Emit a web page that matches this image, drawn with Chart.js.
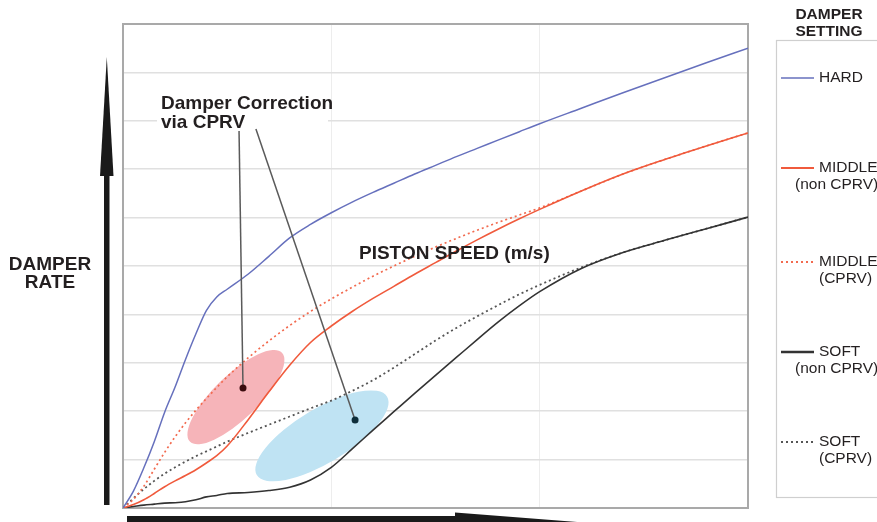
<!DOCTYPE html>
<html>
<head>
<meta charset="utf-8">
<script src="https://cdn.jsdelivr.net/npm/chart.js@4.4.1/dist/chart.umd.min.js"></script>
<style>
  body { margin: 0; background: #fff; }
  canvas { display: block; }
</style>
</head>
<body>
<canvas id="chart" width="877" height="522"></canvas>
<script>
// piston speed (m/s), shared x positions
const speed = [0, 0.05, 0.1, 0.15, 0.2, 0.25, 0.3, 0.35, 0.4, 0.45, 0.5, 0.6, 0.7, 0.8, 0.9, 1.0,
  1.1, 1.2, 1.3, 1.4, 1.5, 1.6, 1.7, 1.8, 1.9, 2.0, 2.2, 2.4, 2.6, 2.8, 3.0];

// damper rate
const hard = [0, 0.35, 0.83, 1.37, 1.98, 2.5, 3.07, 3.6, 4.08, 4.36, 4.52, 4.83, 5.2, 5.58, 5.86, 6.1,
  6.32, 6.52, 6.71, 6.9, 7.08, 7.26, 7.43, 7.6, 7.77, 7.94, 8.26, 8.58, 8.89, 9.2, 9.5];
const middleNon = [0, 0.07, 0.17, 0.3, 0.44, 0.56, 0.67, 0.79, 0.93, 1.08, 1.28, 1.82, 2.4, 2.95, 3.42, 3.76,
  4.06, 4.33, 4.58, 4.83, 5.07, 5.31, 5.54, 5.76, 5.97, 6.17, 6.55, 6.9, 7.2, 7.48, 7.75];
const middleCprv = [0, 0.18, 0.45, 0.8, 1.15, 1.47, 1.76, 2.02, 2.26, 2.49, 2.71, 3.1, 3.45, 3.77, 4.06, 4.32,
  4.56, 4.79, 5.0, 5.2, 5.39, 5.57, 5.74, 5.9, 6.05, 6.2, 6.55, 6.9, 7.2, 7.48, 7.75];
const softNon = [0, 0.03, 0.06, 0.08, 0.1, 0.11, 0.13, 0.17, 0.23, 0.26, 0.3, 0.32, 0.36, 0.43, 0.58, 0.84,
  1.22, 1.61, 1.99, 2.37, 2.74, 3.11, 3.48, 3.84, 4.17, 4.47, 4.95, 5.28, 5.53, 5.77, 6.01];
const softCprv = [0, 0.2, 0.39, 0.56, 0.71, 0.84, 0.96, 1.07, 1.17, 1.27, 1.37, 1.55, 1.72, 1.89, 2.06, 2.22,
  2.42, 2.64, 2.9, 3.18, 3.46, 3.72, 3.96, 4.19, 4.41, 4.61, 4.97, 5.28, 5.53, 5.77, 6.01];

const legendLabels = [["HARD"], ["MIDDLE", "(non CPRV)"], ["MIDDLE", "(CPRV)"], ["SOFT", "(non CPRV)"], ["SOFT", "(CPRV)"]];

const pts = arr => speed.map((x, i) => ({ x: x, y: arr[i] }));
const FONT = '"Liberation Sans", Arial, sans-serif';
const INK = "#231f20";

const series = [
  { data: hard, color: "#6670bd", width: 1.5, dash: [] },
  { data: middleNon, color: "#f05a3c", width: 1.6, dash: [] },
  { data: middleCprv, color: "#f26a4f", width: 1.7, dash: [2, 3] },
  { data: softNon, color: "#333333", width: 1.6, dash: [] },
  { data: softCprv, color: "#555555", width: 1.8, dash: [2, 3] }
];

// pink / blue correction areas, in data units
const backdrop = {
  id: "backdrop",
  beforeDatasetsDraw(chart) {
    const { ctx, chartArea: a, scales: { x, y } } = chart;
    ctx.save();
    ctx.strokeStyle = "#a9a9a9";
    ctx.lineWidth = 2;
    ctx.strokeRect(a.left, a.top, a.right - a.left, a.bottom - a.top);

    const ell = (cx, cy, rx, ry, rot, col) => {
      ctx.beginPath();
      ctx.ellipse(x.getPixelForValue(cx), y.getPixelForValue(cy), rx, ry, rot, 0, Math.PI * 2);
      ctx.fillStyle = col;
      ctx.fill();
    };
    ell(0.542, 2.29, 64, 22, -44 * Math.PI / 180, "#f6b4b9");
    ell(0.955, 1.49, 76, 27, -31 * Math.PI / 180, "#bfe3f3");
    ctx.restore();
  }
};

const notes = {
  id: "notes",
  afterDatasetsDraw(chart) {
    const { ctx, scales: { x, y } } = chart;
    ctx.save();

    // label box
    ctx.fillStyle = "#fff";
    ctx.fillRect(157, 90, 171, 38);
    ctx.fillStyle = INK;
    ctx.font = "bold 19px " + FONT;
    ctx.textBaseline = "middle";
    ctx.fillText("Damper Correction", 161, 104);
    ctx.fillText("via CPRV", 161, 123);

    // leader lines and dots
    const lead = (x0, y0, x1, y1, dot) => {
      ctx.strokeStyle = "#5a5a5a";
      ctx.lineWidth = 1.5;
      ctx.beginPath();
      ctx.moveTo(x.getPixelForValue(x0), y.getPixelForValue(y0));
      ctx.lineTo(x.getPixelForValue(x1), y.getPixelForValue(y1));
      ctx.stroke();
      ctx.fillStyle = dot;
      ctx.beginPath();
      ctx.arc(x.getPixelForValue(x1), y.getPixelForValue(y1), 3.5, 0, Math.PI * 2);
      ctx.fill();
    };
    lead(0.557, 7.79, 0.576, 2.48, "#3b0b0e");
    lead(0.638, 7.83, 1.114, 1.82, "#0e2e3a");

    ctx.fillStyle = INK;
    ctx.font = "bold 19px " + FONT;
    ctx.fillText("PISTON SPEED (m/s)", 359, 254);

    // axis labels
    ctx.textAlign = "center";
    ctx.fillText("DAMPER", 50, 265);
    ctx.fillText("RATE", 50, 283);

    // big axis arrows
    ctx.fillStyle = "#1a1a1a";
    ctx.fillRect(104, 170, 5.5, 335);
    ctx.beginPath();
    ctx.moveTo(106.8, 57);
    ctx.lineTo(113.5, 176);
    ctx.lineTo(100, 176);
    ctx.closePath();
    ctx.fill();
    ctx.fillRect(127, 516, 335, 8);
    ctx.beginPath();
    ctx.moveTo(455, 512.5);
    ctx.lineTo(590, 523);
    ctx.lineTo(455, 534);
    ctx.closePath();
    ctx.fill();

    // legend
    ctx.fillStyle = INK;
    ctx.font = "bold 15.5px " + FONT;
    ctx.fillText("DAMPER", 829, 15);
    ctx.fillText("SETTING", 829, 32);
    ctx.strokeStyle = "#cfcfcf";
    ctx.lineWidth = 1.2;
    ctx.strokeRect(776.5, 40.5, 120, 457);
    ctx.textAlign = "left";
    ctx.font = "15.5px " + FONT;
    const rows = [78, 168, 262, 352, 442];
    legendLabels.forEach((lab, i) => {
      const s = series[i];
      const yy = rows[i];
      ctx.strokeStyle = s.color;
      ctx.lineWidth = i === 3 ? 2.6 : (i === 0 ? 1.5 : 1.8);
      ctx.setLineDash(s.dash);
      ctx.beginPath();
      ctx.moveTo(781, yy);
      ctx.lineTo(814, yy);
      ctx.stroke();
      ctx.setLineDash([]);
      ctx.fillStyle = INK;
      ctx.fillText(lab[0], 819, yy);
      if (lab[1]) {
        ctx.fillText(lab[1], lab[1] === "(CPRV)" ? 819 : 795, yy + 17);
      }
    });
    ctx.restore();
  }
};

new Chart(document.getElementById("chart").getContext("2d"), {
  type: "line",
  data: {
    datasets: series.map((s, i) => ({
      label: legendLabels[i].join(" "),
      data: pts(s.data),
      borderColor: s.color,
      borderWidth: s.width,
      borderDash: s.dash,
      pointRadius: 0,
      cubicInterpolationMode: "monotone",
      fill: false
    }))
  },
  options: {
    responsive: false,
    animation: false,
    layout: { padding: { left: 123, right: 129, top: 24, bottom: 14 } },
    plugins: { legend: { display: false }, tooltip: { enabled: false } },
    scales: {
      x: {
        type: "linear", min: 0, max: 3,
        ticks: { display: false, stepSize: 1 },
        grid: { color: "#ededed", lineWidth: 1, drawTicks: false },
        border: { display: false }
      },
      y: {
        min: 0, max: 10,
        ticks: { display: false, stepSize: 1 },
        grid: { color: "#e0e0e0", lineWidth: 1.5, drawTicks: false },
        border: { display: false }
      }
    }
  },
  plugins: [backdrop, notes]
});
</script>
</body>
</html>
